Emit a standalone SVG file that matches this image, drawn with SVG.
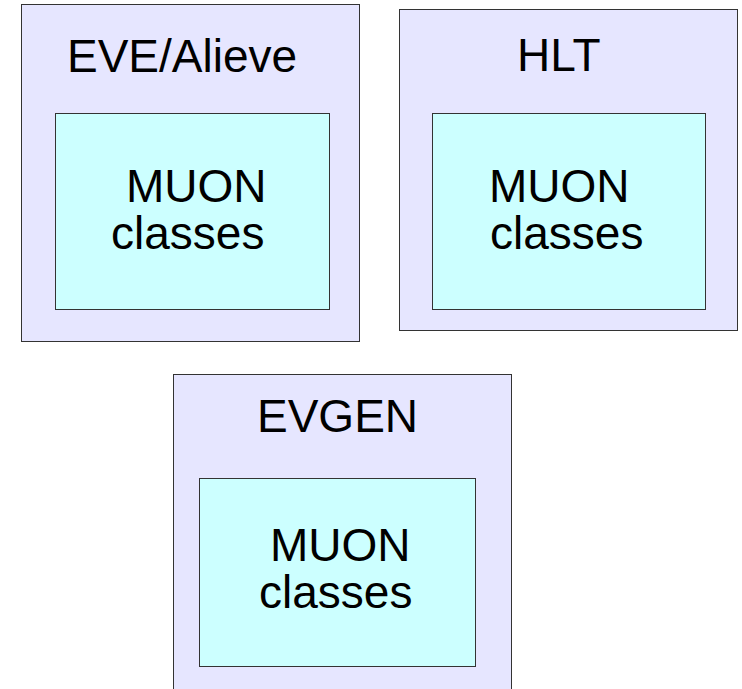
<svg xmlns="http://www.w3.org/2000/svg" width="742" height="689" viewBox="0 0 742 689">
<style>
.outer{fill:#e6e6ff;stroke:#333;stroke-width:1}
.inner{fill:#ccffff;stroke:#333;stroke-width:1}
text{font-family:"Liberation Sans",Arial,sans-serif;font-size:46px;fill:#000}
</style>
<rect width="742" height="689" fill="#fff"/>
<g id="eve">
<rect class="outer" x="21.5" y="4.5" width="338" height="337"/>
<text x="67" y="72">EVE/Alieve</text>
<g id="eve-muon">
<rect class="inner" x="55.5" y="113.5" width="274" height="196"/>
<text x="126" y="202">MUON</text>
<text x="111" y="249">classes</text>
</g>
</g>
<g id="hlt">
<rect class="outer" x="399.5" y="9.5" width="338" height="321"/>
<text x="517" y="71">HLT</text>
<g id="hlt-muon">
<rect class="inner" x="432.5" y="113.5" width="273" height="196"/>
<text x="489" y="202">MUON</text>
<text x="490" y="249">classes</text>
</g>
</g>
<g id="evgen">
<rect class="outer" x="173.5" y="374.5" width="338" height="330"/>
<text x="257" y="432">EVGEN</text>
<g id="evgen-muon">
<rect class="inner" x="199.5" y="478.5" width="276" height="188"/>
<text x="270" y="561">MUON</text>
<text x="259" y="608">classes</text>
</g>
</g>
<g id="connectors"></g>
</svg>
